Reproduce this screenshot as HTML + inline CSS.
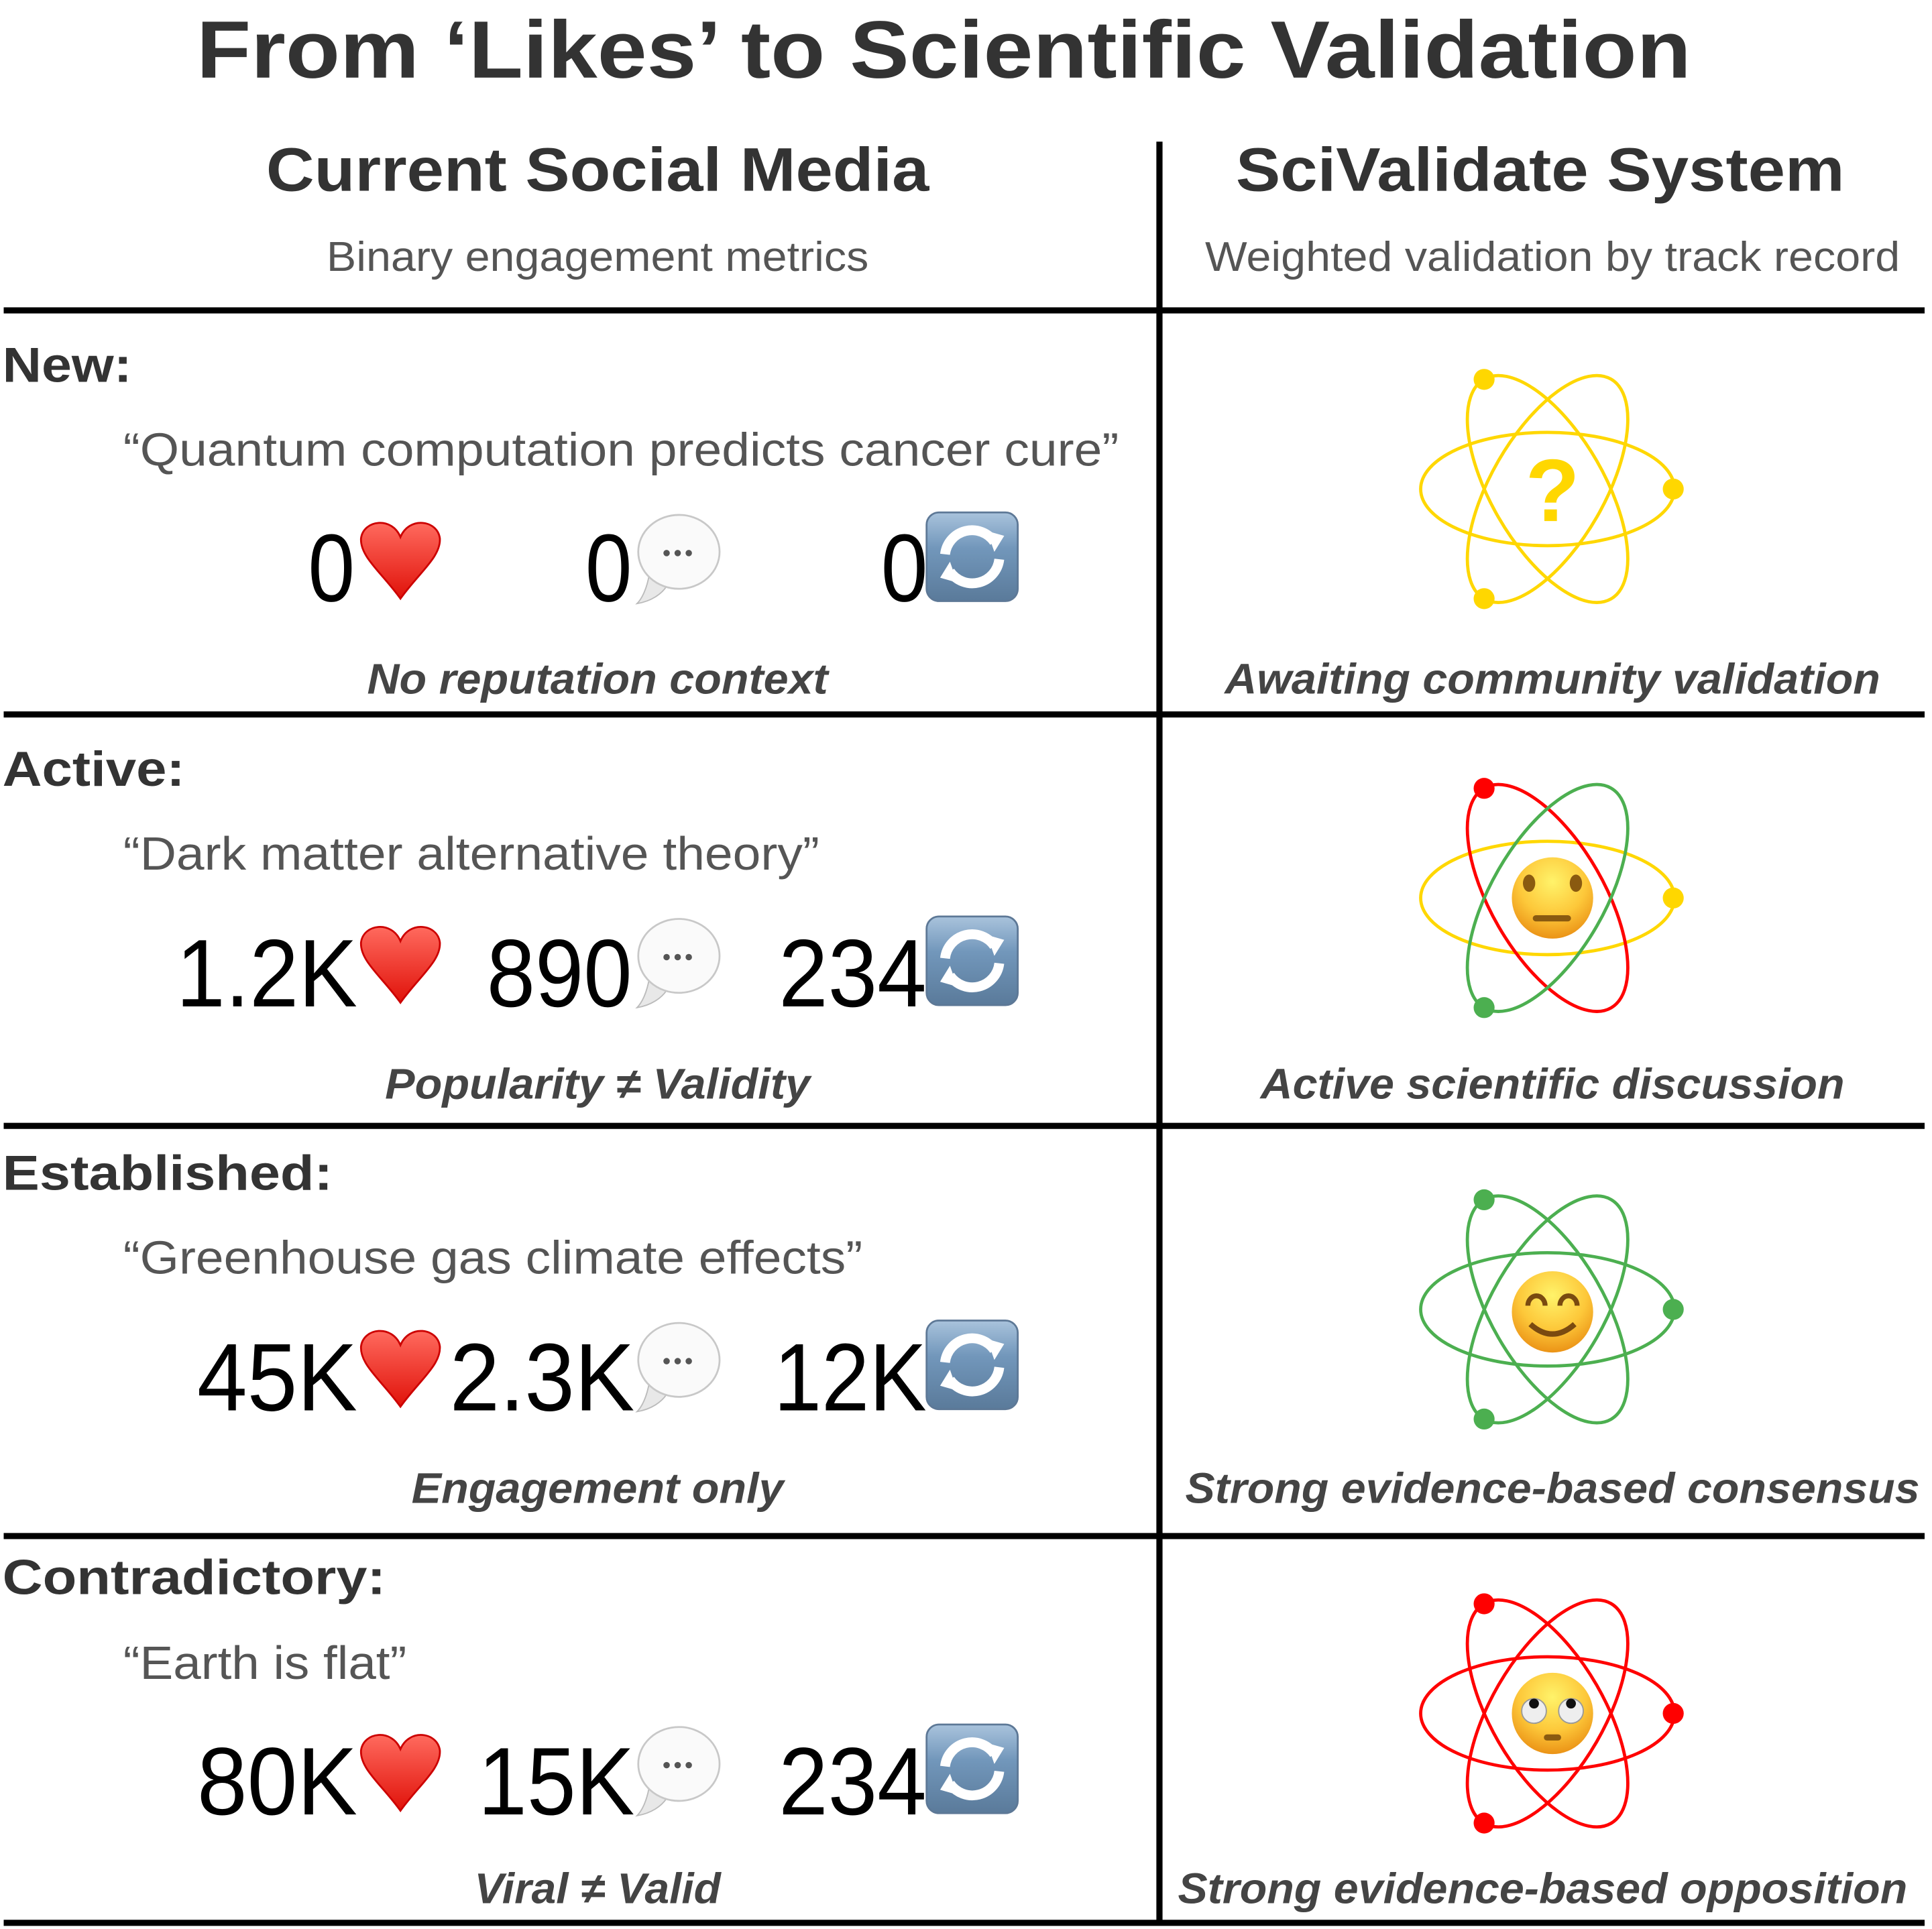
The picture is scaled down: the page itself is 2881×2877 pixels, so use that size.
<!DOCTYPE html>
<html><head><meta charset="utf-8"><style>
html,body{margin:0;padding:0;background:#fff;}
svg{display:block;}
text{font-family:"Liberation Sans",Arial,sans-serif;}
</style></head><body>
<svg width="2881" height="2877" viewBox="0 0 1568 1566" preserveAspectRatio="none" xmlns="http://www.w3.org/2000/svg">
<defs>
<radialGradient id="face" cx="0.5" cy="0.3" r="0.75">
<stop offset="0" stop-color="#fff36a"/><stop offset="0.55" stop-color="#fdc83a"/><stop offset="1" stop-color="#e88a10"/>
</radialGradient>
<linearGradient id="heart" x1="0" y1="0" x2="0" y2="1">
<stop offset="0" stop-color="#ff6a5e"/><stop offset="1" stop-color="#e0120a"/>
</linearGradient>
<linearGradient id="rep" x1="0" y1="0" x2="0" y2="1">
<stop offset="0" stop-color="#a9c3dc"/><stop offset="0.4" stop-color="#7297bb"/><stop offset="1" stop-color="#5a7a9a"/>
</linearGradient>
<g id="hrt"><path d="M35,66 C20,45 2,32 3,17 C5,2 28,-1 35,16 C42,-1 65,2 67,17 C68,32 50,45 35,66 Z" fill="url(#heart)" stroke="#c00" stroke-width="1.5"/></g>
<g id="bub"><path d="M14,48 C12,60 8,68 4,72 C16,70 24,64 28,58 Z" fill="#e8e8e8" stroke="#bbb" stroke-width="1"/>
<ellipse cx="38" cy="30" rx="33" ry="30" fill="#fafafa" stroke="#c8c8c8" stroke-width="1.5"/>
<circle cx="28" cy="31" r="2.6" fill="#555"/><circle cx="37" cy="31" r="2.6" fill="#555"/><circle cx="46" cy="31" r="2.6" fill="#555"/></g>
<g id="rpt"><rect x="0" y="0" width="74" height="72" rx="10" fill="url(#rep)" stroke="#5d7896" stroke-width="1.5"/>
<path d="M15,34 A22,22 0 0 1 55,24" fill="none" stroke="#fff" stroke-width="8"/>
<path d="M49,15 L63,19 L55,32 Z" fill="#fff"/>
<path d="M59,38 A22,22 0 0 1 19,48" fill="none" stroke="#fff" stroke-width="8"/>
<path d="M25,57 L11,53 L19,40 Z" fill="#fff"/></g>
</defs>
<rect width="1568" height="1566" fill="#fff"/>

<text x="766" y="63" text-anchor="middle" font-size="66" font-weight="bold" fill="#333" textLength="1213" lengthAdjust="spacingAndGlyphs">From ‘Likes’ to Scientific Validation</text>
<text x="485" y="155" text-anchor="middle" font-size="50" font-weight="bold" fill="#333" textLength="538" lengthAdjust="spacingAndGlyphs">Current Social Media</text>
<text x="1250" y="155" text-anchor="middle" font-size="50" font-weight="bold" fill="#333" textLength="494" lengthAdjust="spacingAndGlyphs">SciValidate System</text>
<text x="485" y="220" text-anchor="middle" font-size="34" fill="#555" textLength="440" lengthAdjust="spacingAndGlyphs">Binary engagement metrics</text>
<text x="1260" y="220" text-anchor="middle" font-size="34" fill="#555" textLength="564" lengthAdjust="spacingAndGlyphs">Weighted validation by track record</text>

<g stroke="#000" stroke-width="5">
<line x1="941" y1="115" x2="941" y2="1562"/>
<line x1="3" y1="252" x2="1562" y2="252"/>
<line x1="3" y1="580" x2="1562" y2="580"/>
<line x1="3" y1="914" x2="1562" y2="914"/>
<line x1="3" y1="1247" x2="1562" y2="1247"/>
<line x1="3" y1="1561" x2="1562" y2="1561"/>
</g>

<g font-size="40" font-weight="bold" fill="#333">
<text x="2" y="310" textLength="105" lengthAdjust="spacingAndGlyphs">New:</text>
<text x="2" y="638" textLength="148" lengthAdjust="spacingAndGlyphs">Active:</text>
<text x="2" y="966" textLength="268" lengthAdjust="spacingAndGlyphs">Established:</text>
<text x="2" y="1294" textLength="311" lengthAdjust="spacingAndGlyphs">Contradictory:</text>
</g>
<g font-size="38" fill="#555">
<text x="100" y="378" textLength="808" lengthAdjust="spacingAndGlyphs">“Quantum computation predicts cancer cure”</text>
<text x="100" y="706" textLength="565" lengthAdjust="spacingAndGlyphs">“Dark matter alternative theory”</text>
<text x="100" y="1034" textLength="600" lengthAdjust="spacingAndGlyphs">“Greenhouse gas climate effects”</text>
<text x="100" y="1363" textLength="230" lengthAdjust="spacingAndGlyphs">“Earth is flat”</text>
</g>
<g font-size="35" font-weight="bold" font-style="italic" fill="#444" text-anchor="middle">
<text x="485" y="563" textLength="374" lengthAdjust="spacingAndGlyphs">No reputation context</text>
<text x="485" y="892" textLength="345" lengthAdjust="spacingAndGlyphs">Popularity ≠ Validity</text>
<text x="485" y="1220" textLength="302" lengthAdjust="spacingAndGlyphs">Engagement only</text>
<text x="485" y="1545" textLength="200" lengthAdjust="spacingAndGlyphs">Viral ≠ Valid</text>
<text x="1260" y="563" textLength="532" lengthAdjust="spacingAndGlyphs">Awaiting community validation</text>
<text x="1260" y="892" textLength="474" lengthAdjust="spacingAndGlyphs">Active scientific discussion</text>
<text x="1260" y="1220" textLength="596" lengthAdjust="spacingAndGlyphs">Strong evidence-based consensus</text>
<text x="1252" y="1545" textLength="592" lengthAdjust="spacingAndGlyphs">Strong evidence-based opposition</text>
</g>

<g font-size="78" fill="#000">
<text x="250" y="488" textLength="38" lengthAdjust="spacingAndGlyphs">0</text>
<text x="475" y="488" textLength="38" lengthAdjust="spacingAndGlyphs">0</text>
<text x="715" y="488" textLength="38" lengthAdjust="spacingAndGlyphs">0</text>
<text x="143" y="817" textLength="147" lengthAdjust="spacingAndGlyphs">1.2K</text>
<text x="395" y="817" textLength="118" lengthAdjust="spacingAndGlyphs">890</text>
<text x="632" y="817" textLength="120" lengthAdjust="spacingAndGlyphs">234</text>
<text x="160" y="1145" textLength="130" lengthAdjust="spacingAndGlyphs">45K</text>
<text x="365" y="1145" textLength="150" lengthAdjust="spacingAndGlyphs">2.3K</text>
<text x="628" y="1145" textLength="124" lengthAdjust="spacingAndGlyphs">12K</text>
<text x="160" y="1473" textLength="130" lengthAdjust="spacingAndGlyphs">80K</text>
<text x="388" y="1473" textLength="127" lengthAdjust="spacingAndGlyphs">15K</text>
<text x="632" y="1473" textLength="120" lengthAdjust="spacingAndGlyphs">234</text>
</g>
<use href="#hrt" x="290" y="420"/><use href="#bub" x="513" y="418"/><use href="#rpt" x="752" y="416"/>
<use href="#hrt" x="290" y="748"/><use href="#bub" x="513" y="746"/><use href="#rpt" x="752" y="744"/>
<use href="#hrt" x="290" y="1076"/><use href="#bub" x="513" y="1074"/><use href="#rpt" x="752" y="1072"/>
<use href="#hrt" x="290" y="1404"/><use href="#bub" x="513" y="1402"/><use href="#rpt" x="752" y="1400"/>

<g transform="translate(1256,397)" fill="none" stroke-width="2.6">
<ellipse rx="103" ry="46" stroke="#FFD700"/>
<ellipse rx="103" ry="46" stroke="#FFD700" transform="rotate(60)"/>
<ellipse rx="103" ry="46" stroke="#FFD700" transform="rotate(-60)"/>
<circle cx="102" cy="0" r="8.5" fill="#FFD700" stroke="none"/>
<circle cx="-51.5" cy="-89" r="8.5" fill="#FFD700" stroke="none"/>
<circle cx="-51.5" cy="89" r="8.5" fill="#FFD700" stroke="none"/>
<text x="4" y="26" text-anchor="middle" font-size="72" font-weight="bold" fill="#FFD700" stroke="none">?</text>
</g>
<g transform="translate(1256,729)" fill="none" stroke-width="2.6">
<ellipse rx="103" ry="46" stroke="#FFD700"/>
<ellipse rx="103" ry="46" stroke="#FF0000" transform="rotate(60)"/>
<ellipse rx="103" ry="46" stroke="#4CAF50" transform="rotate(-60)"/>
<circle cx="102" cy="0" r="8.5" fill="#FFD700" stroke="none"/>
<circle cx="-51.5" cy="-89" r="8.5" fill="#FF0000" stroke="none"/>
<circle cx="-51.5" cy="89" r="8.5" fill="#4CAF50" stroke="none"/>
<g stroke="none"><circle cx="4" cy="0" r="33" fill="url(#face)"/>
<ellipse cx="-15" cy="-12" rx="5" ry="7" fill="#8a5a10"/><ellipse cx="23" cy="-12" rx="5" ry="7" fill="#8a5a10"/>
<rect x="-12" y="14" width="31" height="5" rx="2.5" fill="#8a5a10"/></g>
</g>
<g transform="translate(1256,1063)" fill="none" stroke-width="2.6">
<ellipse rx="103" ry="46" stroke="#4CAF50"/>
<ellipse rx="103" ry="46" stroke="#4CAF50" transform="rotate(60)"/>
<ellipse rx="103" ry="46" stroke="#4CAF50" transform="rotate(-60)"/>
<circle cx="102" cy="0" r="8.5" fill="#4CAF50" stroke="none"/>
<circle cx="-51.5" cy="-89" r="8.5" fill="#4CAF50" stroke="none"/>
<circle cx="-51.5" cy="89" r="8.5" fill="#4CAF50" stroke="none"/>
<g><circle cx="4" cy="2" r="33" fill="url(#face)" stroke="none"/>
<path d="M-16,-3 A7,8 0 0 1 -2,-3" stroke="#7a4a10" stroke-width="4"/>
<path d="M10,-3 A7,8 0 0 1 24,-3" stroke="#7a4a10" stroke-width="4"/>
<path d="M-14,12 Q4,28 22,12" stroke="#7a4a10" stroke-width="4.5"/></g>
</g>
<g transform="translate(1256,1391)" fill="none" stroke-width="2.6">
<ellipse rx="103" ry="46" stroke="#FF0000"/>
<ellipse rx="103" ry="46" stroke="#FF0000" transform="rotate(60)"/>
<ellipse rx="103" ry="46" stroke="#FF0000" transform="rotate(-60)"/>
<circle cx="102" cy="0" r="8.5" fill="#FF0000" stroke="none"/>
<circle cx="-51.5" cy="-89" r="8.5" fill="#FF0000" stroke="none"/>
<circle cx="-51.5" cy="89" r="8.5" fill="#FF0000" stroke="none"/>
<g stroke="none"><circle cx="4" cy="0" r="33" fill="url(#face)"/>
<circle cx="-11" cy="-2" r="10" fill="#eee" stroke="#999" stroke-width="1"/>
<circle cx="19" cy="-2" r="10" fill="#eee" stroke="#999" stroke-width="1"/>
<circle cx="-11" cy="-8" r="4" fill="#111"/><circle cx="19" cy="-8" r="4" fill="#111"/>
<rect x="-3" y="17" width="14" height="5" rx="2.5" fill="#8a5a10"/></g>
</g>
</svg>
</body></html>
